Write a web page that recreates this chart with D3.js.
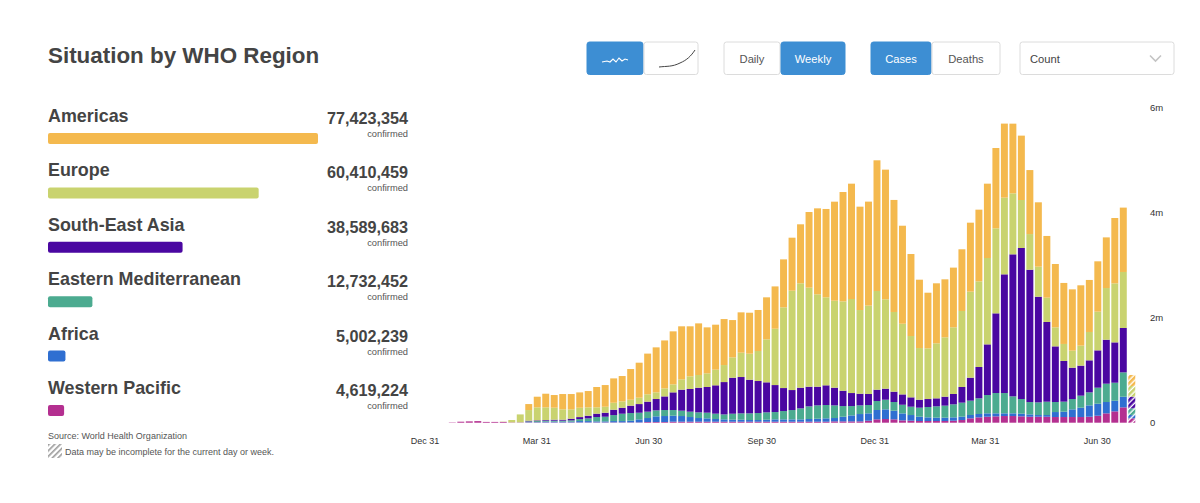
<!DOCTYPE html>
<html>
<head>
<meta charset="utf-8">
<script src="https://cdn.jsdelivr.net/npm/d3@7"></script>
<style>
  body { margin: 0; background: #fff; overflow: hidden; }
  text { font-family: "Liberation Sans", Arial, sans-serif; }
</style>
</head>
<body>
<svg id="chart" width="1200" height="503"></svg>
<script>
// Weekly new cases in thousands. Last week is the incomplete one.
const westernPacific = [6,19,25,30,15,15,15,6,6,6,
  6,6,6,6,6,6,6,6,6,6,
  6,6,6,13,13,13,19,19,19,19,
  19,19,19,19,19,19,19,19,19,19,
  19,19,19,19,19,25,25,25,25,38,
  64,70,64,44,38,32,32,32,32,38,
  51,83,102,114,121,127,127,121,114,114,
  114,108,108,108,108,114,133,178,216,292,
  83];
const africa = [0,0,0,0,0,0,0,0,0,6,
  6,13,13,13,13,25,25,19,19,25,
  25,32,57,76,108,114,114,108,89,70,
  64,51,44,38,38,32,32,38,44,44,
  44,44,51,57,64,64,89,114,140,140,
  178,184,165,133,108,83,70,64,64,64,
  64,64,64,64,57,51,51,51,44,32,
  32,95,102,146,178,216,229,216,203,203,
  64];
const easternMediterranean = [0,0,0,0,0,0,0,0,2,13,
  19,19,19,19,25,38,51,83,89,114,
  140,146,127,121,114,114,108,102,102,108,
  108,102,95,114,121,127,133,140,140,159,
  178,210,241,254,254,241,203,178,165,159,
  171,184,165,165,159,171,197,216,229,248,
  267,273,298,349,387,387,324,279,235,241,
  254,191,191,197,229,248,305,349,343,464,
  127];
const southEastAsia = [0,0,0,0,0,0,0,0,0,13,
  13,13,19,19,32,38,51,64,76,102,
  114,140,165,191,216,260,337,400,432,470,
  489,540,616,686,692,641,610,572,514,438,
  381,394,375,356,375,337,292,248,222,210,
  216,210,197,197,178,152,152,152,171,197,
  298,438,597,965,1518,2261,2705,2877,2521,2013,
  1518,1060,775,597,572,610,711,838,768,845,
  222];
const europe = [0,0,0,0,0,0,5,45,150,203,
  248,241,229,197,178,178,159,121,114,133,
  121,114,121,140,127,152,152,197,241,241,
  260,298,324,387,464,495,572,819,1073,1537,
  1892,1988,1886,1759,1676,1657,1702,1791,1594,1683,
  1880,1702,1518,1346,1168,984,965,1048,1130,1270,
  1448,1638,1632,1645,1619,1461,1162,914,679,572,
  464,362,324,324,381,540,737,984,1124,1067,
  203];
const americas = [0,0,0,0,0,0,0,0,0,114,
  203,260,241,292,292,292,311,387,413,464,
  483,584,667,775,857,914,1010,1010,953,984,
  876,857,876,711,768,781,781,800,806,914,
  1010,1124,1441,1638,1683,1886,2083,2197,1969,1981,
  2489,2470,2134,1867,1562,1302,1060,1143,1105,1137,
  1175,1314,1365,1416,1530,1410,1327,1226,1219,1226,
  1175,1207,1162,1168,1149,991,959,965,1245,1226,
  210];

const regionNames = ['Americas', 'Europe', 'South-East Asia', 'Eastern Mediterranean', 'Africa', 'Western Pacific'];
const regionTotals = [77423354, 60410459, 38589683, 12732452, 5002239, 4619224];
const regionColors = ['#f4b94e', '#c9d36f', '#4a07a1', '#4cab90', '#2f6fd1', '#b42f90'];

const dateTicks = ['2019-12-31', '2020-03-31', '2020-06-30', '2020-09-30', '2020-12-31', '2021-03-31', '2021-06-30'];
const valueTicks = [0, 2000, 4000, 6000];

const svg = d3.select('#chart');
const defs = svg.append('defs');
const textColor = '#444';

// hatch fill for the incomplete week
const hatch = (id, color, width) => {
  const p = defs.append('pattern')
    .attr('id', id)
    .attr('width', 4).attr('height', 4)
    .attr('patternUnits', 'userSpaceOnUse')
    .attr('patternTransform', 'rotate(45)');
  p.append('rect').attr('width', 4).attr('height', 4).attr('fill', '#fff');
  p.append('rect').attr('width', width).attr('height', 4).attr('fill', color);
};
regionColors.forEach((c, i) => hatch('hatch' + i, c, 2.6));
hatch('hatchGrey', '#9a9a9a', 1.6);

// title
svg.append('text')
  .attr('x', 48).attr('y', 63)
  .attr('font-size', 22.4).attr('font-weight', 'bold')
  .attr('fill', textColor)
  .text('Situation by WHO Region');

// region list
const rowY = d3.scaleLinear().domain([0, 5]).range([122, 394]);
const totalX = d3.scaleLinear().domain([0, d3.max(regionTotals)]).range([0, 270]);
const rows = svg.append('g').selectAll('g')
  .data(regionNames)
  .join('g')
  .attr('transform', (d, i) => `translate(0,${rowY(i)})`);

rows.append('text')
  .attr('x', 48)
  .attr('font-size', 17.9).attr('font-weight', 'bold')
  .attr('fill', textColor)
  .text(d => d);
rows.append('rect')
  .attr('x', 48).attr('y', 11)
  .attr('width', (d, i) => Math.max(totalX(regionTotals[i]), 16))
  .attr('height', 11).attr('rx', 2)
  .attr('fill', (d, i) => regionColors[i]);
rows.append('text')
  .attr('x', 408).attr('y', 2)
  .attr('text-anchor', 'end')
  .attr('font-size', 16.2).attr('font-weight', 'bold')
  .attr('fill', textColor)
  .text((d, i) => d3.format(',')(regionTotals[i]));
rows.append('text')
  .attr('x', 408).attr('y', 15)
  .attr('text-anchor', 'end')
  .attr('font-size', 9.3)
  .attr('fill', '#555')
  .text('confirmed');

// footnotes
svg.append('text')
  .attr('x', 48).attr('y', 439)
  .attr('font-size', 9).attr('fill', '#555')
  .text('Source: World Health Organization');
svg.append('rect')
  .attr('x', 48).attr('y', 444)
  .attr('width', 14).attr('height', 14)
  .attr('fill', 'url(#hatchGrey)');
svg.append('text')
  .attr('x', 65).attr('y', 455)
  .attr('font-size', 9).attr('fill', '#555')
  .text('Data may be incomplete for the current day or week.');

// stacked bars
const stackKeys = [0, 1, 2, 3, 4, 5];
const seriesByKey = [westernPacific, africa, easternMediterranean, southEastAsia, europe, americas];
const colorIndex = [5, 4, 3, 2, 1, 0];
const weeks = d3.range(americas.length);
const lastWeek = weeks[weeks.length - 1];

const x = d3.scaleBand().domain(weeks).range([447.3, 1136.8]).padding(0.18);
const y = d3.scaleLinear().domain([0, 6000]).range([422.7, 107.7]);

const stacked = d3.stack()
  .keys(stackKeys)
  .value((week, key) => seriesByKey[key][week])(weeks);

svg.append('g').selectAll('g')
  .data(stacked)
  .join('g')
  .each(function (layer) {
    const ci = colorIndex[layer.key];
    d3.select(this).selectAll('rect')
      .data(layer)
      .join('rect')
      .attr('x', d => x(d.data))
      .attr('y', d => y(d[1]))
      .attr('width', x.bandwidth())
      .attr('height', d => y(d[0]) - y(d[1]))
      .attr('fill', d => d.data === lastWeek ? `url(#hatch${ci})` : regionColors[ci]);
  });

// axes
const xTime = d3.scaleUtc()
  .domain([new Date('2019-12-31'), new Date('2021-06-30')])
  .range([424.5, 1096.7]);
const xAxis = d3.axisBottom(xTime)
  .tickValues(dateTicks.map(d => new Date(d)))
  .tickFormat(d3.utcFormat('%b %d'))
  .tickSize(0).tickPadding(0);
svg.append('g')
  .attr('transform', 'translate(0,438)')
  .call(xAxis)
  .call(g => g.select('.domain').remove())
  .call(g => g.selectAll('text').attr('font-size', 9).attr('fill', '#333')
    .attr('font-family', '"Liberation Sans", Arial, sans-serif'));

const yAxis = d3.axisRight(y)
  .tickValues(valueTicks)
  .tickFormat(d => d === 0 ? '0' : (d / 1000) + 'm')
  .tickSize(0).tickPadding(0);
svg.append('g')
  .attr('transform', 'translate(1150,0)')
  .call(yAxis)
  .call(g => g.select('.domain').remove())
  .call(g => g.selectAll('text').attr('font-size', 9.5).attr('fill', '#333')
    .attr('font-family', '"Liberation Sans", Arial, sans-serif'));

// toolbar buttons
const blue = '#3d8ed3';
const button = (bx, bw, label, on) => {
  const g = svg.append('g');
  g.append('rect')
    .attr('x', bx).attr('y', 42).attr('width', bw).attr('height', 32.5).attr('rx', 2.5)
    .attr('fill', on ? blue : '#fff')
    .attr('stroke', on ? blue : '#dcdcdc').attr('stroke-width', 1);
  if (label) {
    g.append('text')
      .attr('x', bx + bw / 2).attr('y', 62.5)
      .attr('text-anchor', 'middle')
      .attr('font-size', 11.2)
      .attr('fill', on ? '#fff' : '#555')
      .text(label);
  }
};
button(587, 56, null, true);
button(644, 54, null, false);
button(724, 56, 'Daily', false);
button(781, 64, 'Weekly', true);
button(871, 60, 'Cases', true);
button(932, 68, 'Deaths', false);
button(1020, 154, null, false);

svg.append('path')
  .attr('d', 'M602 62 L607 61 L610 62 L613 59 L616 62 L619 58 L622 61 L625 59 L628 60')
  .attr('fill', 'none').attr('stroke', '#fff').attr('stroke-width', 1.1);
svg.append('path')
  .attr('d', 'M659 67 C667 66 672 67 680 63 C687 60 691 56 695 50')
  .attr('fill', 'none').attr('stroke', '#444').attr('stroke-width', 1);
svg.append('text')
  .attr('x', 1030).attr('y', 62.5)
  .attr('font-size', 11.2).attr('fill', '#444')
  .text('Count');
svg.append('path')
  .attr('d', 'M1150 55.5 L1155.5 61 L1161 55.5')
  .attr('fill', 'none').attr('stroke', '#c4c4c4').attr('stroke-width', 1.6);
</script>
</body>
</html>
